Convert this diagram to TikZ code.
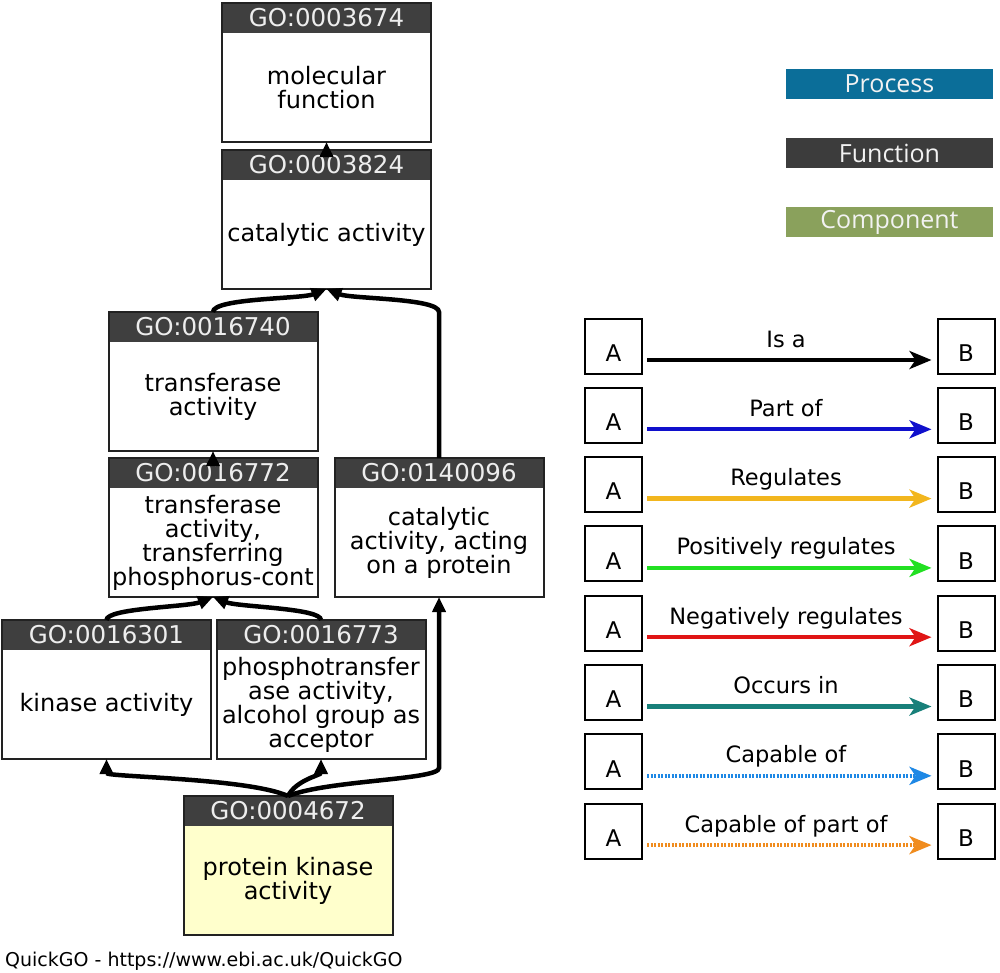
\documentclass[tikz,border=0pt]{standalone}
\usepackage{fontspec}
\setmainfont{DejaVu Sans}
\newfontfamily\legfont{Open Sans}
\usetikzlibrary{arrows.meta,calc}
\definecolor{hdr}{HTML}{3F3F3F}
\definecolor{boxline}{HTML}{222222}
\definecolor{yel}{HTML}{FFFFCC}
\definecolor{procc}{HTML}{0B6E99}
\definecolor{funcc}{HTML}{3C3C3C}
\definecolor{compc}{HTML}{8AA15C}
\definecolor{partofc}{HTML}{1010CC}
\definecolor{regc}{HTML}{F2B61E}
\definecolor{posc}{HTML}{22E022}
\definecolor{negc}{HTML}{E01515}
\definecolor{occc}{HTML}{18807A}
\definecolor{capc}{HTML}{1E88E5}
\definecolor{cappc}{HTML}{F08C1E}
\newcommand\goterm[6]{%
  \node[gobox, fill=#6] (#1) at (#2,{#3+69.5}) {};
  \fill[hdr] (#1.north west) rectangle ([yshift=-30pt]#1.north east);
  \node[hdrtext] at ([yshift=-15pt]#1.north) {#4};
  \node[bodytext] at ([yshift=-15pt]#1.center) {#5};
  \draw[boxline, line width=2pt] (#1.north west) rectangle (#1.south east);
}
\newcommand\legrow[4]{%
  \node[abox] (a#1) at (613.5,{346+69.3*#1}) {};
  \node[abletter] at ([yshift=-7pt]a#1.center) {\fontsize{23}{23}\selectfont A};
  \node[abox] (b#1) at (966,{346+69.3*#1}) {};
  \node[abletter] at ([yshift=-7pt]b#1.center) {\fontsize{23}{23}\selectfont B};
  \draw[rel, #3, #4] ([xshift=4pt,yshift=-14pt]a#1.east) -- ([xshift=-5pt,yshift=-14pt]b#1.west);
  \node[leglabel] (l#1) at (786,{346+69.3*#1+1}) {#2};
}
\newcommand\legbar[4]{%
  \node[legbarstyle, fill=#3] (#1) at (889.5,#2) {#4};
}
\begin{document}
\begin{tikzpicture}[x=1pt,y=-1pt,
  gobox/.style={minimum width=209pt, minimum height=139pt, inner sep=0pt, outer sep=0pt, draw=none},
  hdrtext/.style={text=white!93!black, font=\fontsize{24.5}{24.5}\selectfont, inner sep=0pt},
  bodytext/.style={text=black, font=\fontsize{24}{24}\selectfont, align=center, inner sep=0pt},
  isa/.style={line width=4.5pt, black, -{Triangle[length=15pt,width=13pt]}},
  abox/.style={draw=black, line width=2pt, minimum width=57pt, minimum height=55pt, inner sep=0pt},
  abletter/.style={inner sep=0pt},
  rel/.style={line width=4.3pt, -{Stealth[length=22pt,width=18pt,inset=6pt]}},
  dotrel/.style={dash pattern=on 2pt off 1.5pt},
  leglabel/.style={anchor=base, font=\fontsize{22.5}{22.5}\selectfont, inner sep=0pt},
  legbarstyle/.style={minimum width=207pt, minimum height=30pt, inner sep=0pt, text=white!95!black, font=\legfont\fontsize{25}{25}\selectfont}
]
\useasboundingbox (0,0) rectangle (1000,972);
\fill[white] (0,0) rectangle (1000,972);

\goterm{t3674}{326.5}{3}{GO:0003674}{molecular\\function}{white}
\goterm{t3824}{326.5}{150}{GO:0003824}{catalytic activity}{white}
\goterm{t6740}{213}{312}{GO:0016740}{transferase\\activity}{white}
\goterm{t6772}{213}{458}{GO:0016772}{transferase\\activity,\\transferring\\phosphorus-cont}{white}
\goterm{t140096}{439}{458}{GO:0140096}{catalytic\\activity, acting\\on a protein}{white}
\goterm{t6301}{106.5}{620}{GO:0016301}{kinase activity}{white}
\goterm{t6773}{321}{620}{GO:0016773}{phosphotransfer\\ase activity,\\alcohol group as\\acceptor}{white}
\goterm{t4672}{288}{796}{GO:0004672}{protein kinase\\activity}{yel}

\coordinate (k1) at (439,768);
\coordinate (k2) at (439,312);

\draw[isa] (t3824.north) -- (t3674.south);
\draw[isa] (t6772.north) -- (t6740.south);
\draw[isa] (t6740.north) .. controls +(0,-14) and +(-25,10) .. (t3824.south);
\draw[isa] (t140096.north) -- (k2) .. controls +(0,-14) and +(25,10) .. (t3824.south);
\draw[isa] (t6301.north) .. controls +(0,-12) and +(-25,10) .. (t6772.south);
\draw[isa] (t6773.north) .. controls +(0,-12) and +(25,10) .. (t6772.south);
\draw[isa] (t4672.north) .. controls +(-40,-18) and +(0,18) .. (t6301.south);
\draw[isa] (t4672.north) .. controls +(8,-16) and +(0,16) .. (t6773.south);
\draw[isa] (t4672.north) .. controls +(40,-16) and +(0,12) .. (k1) -- (t140096.south);

\legbar{process}{84}{procc}{Process}
\legbar{function}{153}{funcc}{Function}
\legbar{component}{222}{compc}{Component}

\legrow{0}{Is a}{black}{}
\legrow{1}{Part of}{partofc}{}
\legrow{2}{Regulates}{regc}{}
\legrow{3}{Positively regulates}{posc}{}
\legrow{4}{Negatively regulates}{negc}{}
\legrow{5}{Occurs in}{occc}{}
\legrow{6}{Capable of}{capc}{dotrel}
\legrow{7}{Capable of part of}{cappc}{dotrel}

\node[anchor=base west, font=\fontsize{19}{19}\selectfont, inner sep=0pt] (foot) at (5,966) {QuickGO - https://www.ebi.ac.uk/QuickGO};
\end{tikzpicture}
\end{document}
